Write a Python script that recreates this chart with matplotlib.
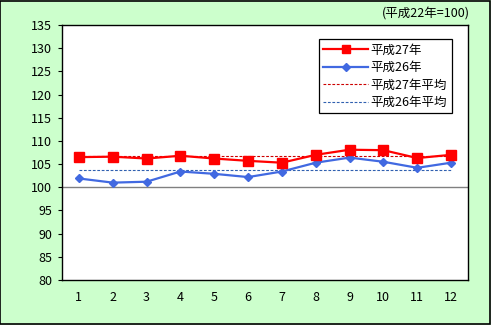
import matplotlib
matplotlib.use("Agg")
import matplotlib.pyplot as plt

plt.rcParams['font.family'] = ['Noto Sans CJK JP', 'DejaVu Sans']

months = [1, 2, 3, 4, 5, 6, 7, 8, 9, 10, 11, 12]
h27 = [106.5, 106.6, 106.2, 106.8, 106.2, 105.7, 105.3, 107.0, 108.1, 108.0, 106.3, 107.0]
h26 = [101.9, 101.0, 101.2, 103.4, 102.9, 102.2, 103.4, 105.3, 106.4, 105.5, 104.2, 105.3]
h27_avg = 106.7
h26_avg = 103.7
yticks = [80, 85, 90, 95, 100, 105, 110, 115, 120, 125, 130, 135]

fig = plt.figure(figsize=(4.91, 3.25), dpi=100, facecolor='#CCFFCC')
fig.patches.append(plt.Rectangle((0.001, 0.002), 0.997, 0.995, transform=fig.transFigure,
                                 fill=False, edgecolor='black', linewidth=1.2))
ax = fig.add_axes([62/491, 1-280/325, (468-62)/491, (280-25)/325])
ax.set_facecolor('white')

ax.axhline(100, color='#808080', linewidth=1.0, zorder=1)
ax.plot(months, [h27_avg]*12, color='#CC0000', linestyle=(0, (2.5, 1.5)), linewidth=0.8, label='平成27年平均', zorder=2)
ax.plot(months, [h26_avg]*12, color='#3060B0', linestyle=(0, (2.5, 1.5)), linewidth=0.8, label='平成26年平均', zorder=2)
l27, = ax.plot(months, h27, color='#FF0000', linewidth=1.6, marker='s', markersize=6.5,
               label='平成27年', zorder=4)
l26, = ax.plot(months, h26, color='#4169E1', linewidth=1.6, marker='D', markersize=4.5,
               label='平成26年', zorder=3)

ax.set_xlim(0.5, 12.5)
ax.set_ylim(80, 135)
ax.set_yticks(yticks)
ax.set_xticks(months)
ax.tick_params(axis='y', direction='out', length=3, labelsize=9, pad=4)
ax.tick_params(axis='x', length=0, labelsize=9, pad=8)
for s in ax.spines.values():
    s.set_color('black')
    s.set_linewidth(1.0)

handles, labels = ax.get_legend_handles_labels()
order = [2, 3, 0, 1]
leg = ax.legend([handles[i] for i in order], [labels[i] for i in order],
                loc='upper right', bbox_to_anchor=(0.975, 0.968), fontsize=9,
                frameon=True, fancybox=False, edgecolor='black', framealpha=1,
                handlelength=3.6, handletextpad=0.2, labelspacing=0.35, borderpad=0.35,
                markerscale=0.85)
leg.get_frame().set_linewidth(0.9)

fig.text(470/491, 1-14/325, '(平成22年=100)', ha='right', va='center', fontsize=9)

fig.savefig('out.png', dpi=100, facecolor=fig.get_facecolor())
